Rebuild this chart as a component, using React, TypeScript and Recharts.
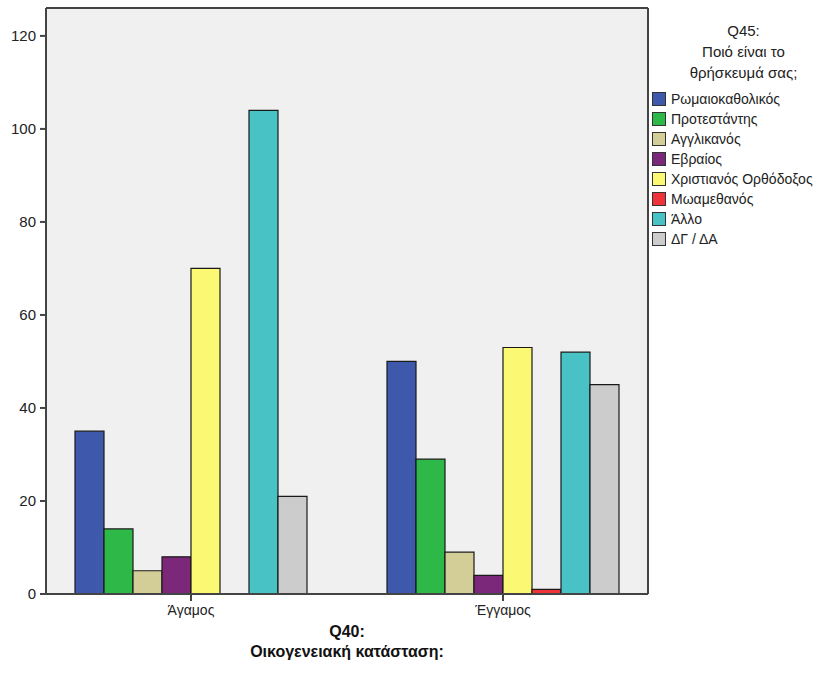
import { BarChart, Bar, XAxis, YAxis, CartesianGrid } from 'recharts';

const categories = ['Άγαμος', 'Έγγαμος'];

const seriesNames = [
  'Ρωμαιοκαθολικός',
  'Προτεστάντης',
  'Αγγλικανός',
  'Εβραίος',
  'Χριστιανός Ορθόδοξος',
  'Μωαμεθανός',
  'Άλλο',
  'ΔΓ / ΔΑ',
];

const seriesColors = ['#3e58ac', '#2eb848', '#d3ce97', '#7b277a', '#fbf873', '#ef3338', '#48c2c5', '#cccccc'];

// one array per series, values for [Άγαμος, Έγγαμος]
const romanCatholic = [35, 50];
const protestant = [14, 29];
const anglican = [5, 9];
const jewish = [8, 4];
const orthodox = [70, 53];
const muslim = [0, 1];
const other = [104, 52];
const dkna = [21, 45];

const seriesValues = [romanCatholic, protestant, anglican, jewish, orthodox, muslim, other, dkna];

const yTicks = [0, 20, 40, 60, 80, 100, 120];

const data = categories.map((cat, i) => {
  const row: Record<string, string | number> = { cat };
  seriesValues.forEach((vals, s) => {
    row['s' + s] = vals[i];
  });
  return row;
});

const FONT = '"Liberation Sans", Arial, sans-serif';
const AXIS = '#444';

function LegendBox() {
  return (
    <div style={{ position: 'absolute', left: 652, top: 20, width: 183, fontFamily: FONT, color: '#222' }}>
      <div style={{ textAlign: 'center', fontSize: 15, lineHeight: '21px', marginBottom: 6 }}>
        Q45:
        <br />
        Ποιό είναι το
        <br />
        θρήσκευμά σας;
      </div>
      {seriesNames.map((name, s) => (
        <div key={name} style={{ display: 'flex', alignItems: 'center', height: 20, fontSize: 14 }}>
          <span
            style={{
              display: 'inline-block',
              width: 12,
              height: 12,
              background: seriesColors[s],
              border: '1px solid #333',
              marginRight: 5,
            }}
          />
          {name}
        </div>
      ))}
    </div>
  );
}

export default function App() {
  return (
    <div style={{ position: 'absolute', left: 0, top: 0, width: 835, height: 686, background: '#fff' }}>
      <BarChart
        width={835}
        height={686}
        data={data}
        margin={{ top: 7, right: 186, left: 0, bottom: 62 }}
        barGap={0}
        barSize={29}
      >
        <CartesianGrid horizontal={false} vertical={false} fill="#f0f0f0" />
        <XAxis
          xAxisId="b"
          dataKey="cat"
          height={30}
          padding={{ left: -11, right: -11 }}
          stroke={AXIS}
          strokeWidth={2}
          tickSize={7}
          tickMargin={4}
          tick={{ fill: '#222', fontSize: 14, fontFamily: FONT }}
        />
        <XAxis
          xAxisId="t"
          dataKey="cat"
          orientation="top"
          height={1}
          padding={{ left: -11, right: -11 }}
          stroke={AXIS}
          strokeWidth={2}
          tick={false}
          tickLine={false}
        />
        <YAxis
          yAxisId="l"
          width={46}
          domain={[0, 126]}
          ticks={yTicks}
          interval={0}
          stroke={AXIS}
          strokeWidth={2}
          tickSize={6}
          tickMargin={4}
          tick={{ fill: '#222', fontSize: 15, fontFamily: FONT }}
        />
        <YAxis
          yAxisId="r"
          orientation="right"
          width={1}
          domain={[0, 126]}
          stroke={AXIS}
          strokeWidth={2}
          tick={false}
          tickLine={false}
        />
        {seriesNames.map((name, s) => (
          <Bar
            key={name}
            xAxisId="b"
            yAxisId="l"
            dataKey={'s' + s}
            name={name}
            fill={seriesColors[s]}
            stroke="#1a1a1a"
            strokeWidth={1.2}
            isAnimationActive={false}
          />
        ))}
      </BarChart>
      <LegendBox />
      <div
        style={{
          position: 'absolute',
          left: 46,
          width: 602,
          top: 622,
          textAlign: 'center',
          fontFamily: FONT,
          fontWeight: 'bold',
          fontSize: 16,
          lineHeight: '20px',
          color: '#111',
        }}
      >
        Q40:
        <br />
        Οικογενειακή κατάσταση:
      </div>
    </div>
  );
}
